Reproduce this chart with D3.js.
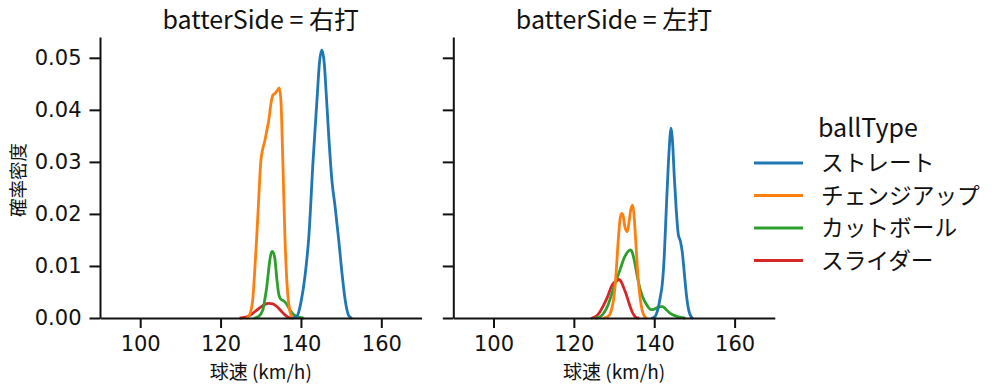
<!DOCTYPE html>
<html><head><meta charset="utf-8">
<script src="https://cdn.jsdelivr.net/npm/d3@7"></script>
<style>
body{margin:0;background:#fff;}
svg text{font-family:"Noto Sans CJK JP","Noto Sans",sans-serif;fill:#111;}
</style></head>
<body><svg id="c" width="999" height="391"></svg>
<script>
// ---- data ----
const panels = ["右打", "左打"];
const ballTypes = ["ストレート", "チェンジアップ", "カットボール", "スライダー"];
const colors = ["#1f77b4", "#ff7f0e", "#2ca02c", "#d62728"];
const xTicks = [100, 120, 140, 160];
const yTicks = [0.00, 0.01, 0.02, 0.03, 0.04, 0.05];

// 右打
const R_straight_x = [138, 139, 140, 141, 142, 143, 144, 144.6, 145.2, 145.8, 146.3, 147, 147.7, 148.5, 149.4, 150.2, 151, 151.8, 152.5];
const R_straight_y = [0, 0.0003, 0.003, 0.008, 0.016, 0.030, 0.042, 0.049, 0.0515, 0.049, 0.043, 0.034, 0.0265, 0.0214, 0.015, 0.0087, 0.0035, 0.0006, 0];
const R_change_x = [126.5, 127, 127.5, 128, 128.5, 129, 129.5, 130, 130.5, 131, 131.5, 132, 132.5, 133, 133.6, 134.2, 134.6, 135, 135.5, 136, 136.5, 137, 137.5, 138];
const R_change_y = [0, 0.0004, 0.0012, 0.0035, 0.009, 0.0156, 0.023, 0.030, 0.0325, 0.034, 0.036, 0.038, 0.041, 0.0428, 0.0432, 0.0438, 0.0442, 0.042, 0.030, 0.016, 0.007, 0.0025, 0.0006, 0];
const R_cut_x = [128.5, 129.5, 130.5, 131, 131.5, 132, 132.5, 132.9, 133.5, 134, 134.5, 135, 135.5, 136, 136.5, 137, 137.5, 138, 139, 140.5];
const R_cut_y = [0, 0.0003, 0.0015, 0.0035, 0.006, 0.0095, 0.0122, 0.0128, 0.0115, 0.0075, 0.0045, 0.0036, 0.0034, 0.0031, 0.0026, 0.0019, 0.0013, 0.0008, 0.0003, 0];
const R_slider_x = [125, 126, 127, 128, 129, 130, 131, 132, 133, 134, 135, 136, 137, 137.5];
const R_slider_y = [0, 0.0001, 0.0004, 0.0009, 0.0015, 0.0021, 0.0026, 0.0028, 0.0027, 0.0022, 0.0014, 0.0006, 0.0001, 0];

// 左打
const L_straight_x = [139.5, 140.2, 141, 141.5, 142, 142.5, 143, 143.5, 144, 144.2, 144.5, 145, 145.5, 146, 146.5, 147, 147.5, 148, 148.5, 149, 149.5];
const L_straight_y = [0, 0.0003, 0.002, 0.004, 0.0065, 0.012, 0.021, 0.0294, 0.0355, 0.0365, 0.0345, 0.027, 0.0205, 0.016, 0.0148, 0.0125, 0.0085, 0.0045, 0.0018, 0.0005, 0];
const L_change_x = [127.5, 128.5, 129, 129.5, 130, 130.5, 131, 131.5, 131.9, 132.3, 132.7, 133.3, 133.8, 134.2, 134.65, 135, 135.5, 136, 136.5, 137, 137.5, 138];
const L_change_y = [0, 0.0003, 0.0008, 0.002, 0.0042, 0.0085, 0.0145, 0.019, 0.0201, 0.0195, 0.0175, 0.0166, 0.0188, 0.021, 0.0217, 0.0195, 0.0135, 0.0075, 0.0038, 0.0015, 0.0004, 0];
const L_cut_x = [125.5, 126.5, 127.5, 128.5, 129.5, 130.5, 131.5, 132.5, 133.5, 134.1, 134.5, 135, 135.5, 136, 136.5, 137, 137.5, 138, 138.5, 139, 139.5, 140, 140.5, 141, 141.5, 142, 142.5, 143, 143.5, 144, 145, 146, 147, 147.5];
const L_cut_y = [0, 0.0002, 0.001, 0.0025, 0.0048, 0.0072, 0.0093, 0.0115, 0.0128, 0.0131, 0.0127, 0.0112, 0.0092, 0.0072, 0.0055, 0.0043, 0.0034, 0.0027, 0.0021, 0.0017, 0.0016, 0.0017, 0.0019, 0.0021, 0.0022, 0.0022, 0.002, 0.0016, 0.0012, 0.0009, 0.0005, 0.0002, 0.00005, 0];
const L_slider_x = [124.5, 125.5, 126.5, 127.5, 128.5, 129.3, 130, 130.5, 131.1, 131.6, 132, 132.5, 133, 133.5, 134, 134.5, 135, 135.5, 136];
const L_slider_y = [0, 0.0003, 0.0012, 0.0026, 0.0043, 0.006, 0.0068, 0.0070, 0.0074, 0.0072, 0.0066, 0.0056, 0.0046, 0.0034, 0.0022, 0.0012, 0.0005, 0.0001, 0];

const seriesByPanel = [
  [[R_straight_x, R_straight_y], [R_change_x, R_change_y], [R_cut_x, R_cut_y], [R_slider_x, R_slider_y]],
  [[L_straight_x, L_straight_y], [L_change_x, L_change_y], [L_cut_x, L_cut_y], [L_slider_x, L_slider_y]]
];

// ---- layout ----
const svg = d3.select("#c");
const plotTop = 37, plotBottom = 318;
const panelLeft = [100, 453.3];
const panelW = 321.5;
const tickFont = '"DejaVu Sans",sans-serif';
const y = d3.scaleLinear().domain([0, 0.054]).range([plotBottom, plotTop]);

panels.forEach((p, i) => {
  const x0 = panelLeft[i];
  const x = d3.scaleLinear().domain([90, 170]).range([x0, x0 + panelW]);
  const g = svg.append("g");

  // curves (first hue on top)
  const line = d3.line().x(d => x(d[0])).y(d => y(d[1])).curve(d3.curveMonotoneX);
  for (let k = ballTypes.length - 1; k >= 0; k--) {
    const [xs, ys] = seriesByPanel[i][k];
    const pts = xs.map((v, j) => [v, ys[j]]);
    g.append("path").attr("d", line(pts)).attr("fill", "none")
      .attr("stroke", colors[k]).attr("stroke-width", 2.8)
      .attr("stroke-linejoin", "round").attr("stroke-linecap", "round");
  }

  // x axis
  const xa = g.append("g").attr("transform", `translate(0,${plotBottom})`)
    .call(d3.axisBottom(x).tickValues(xTicks).tickSize(10).tickPadding(8).tickSizeOuter(0));
  xa.select(".domain").attr("stroke", "#111").attr("stroke-width", 2);
  xa.selectAll(".tick line").attr("stroke", "#111").attr("stroke-width", 2);
  xa.selectAll(".tick text").attr("font-size", 21).style("font-family", tickFont);

  // y axis
  const ya = g.append("g").attr("transform", `translate(${x0},0)`)
    .call(d3.axisLeft(y).tickValues(yTicks).tickSize(10.5).tickPadding(8).tickSizeOuter(0)
      .tickFormat(i === 0 ? d3.format(".2f") : () => ""));
  ya.select(".domain").attr("stroke", "#111").attr("stroke-width", 2);
  ya.selectAll(".tick line").attr("stroke", "#111").attr("stroke-width", 2);
  ya.selectAll(".tick text").attr("font-size", 21).style("font-family", tickFont);

  // title
  g.append("text").attr("x", x0 + panelW / 2).attr("y", 29).attr("text-anchor", "middle")
    .attr("font-size", 25).text("batterSide = " + p);
  // x label
  g.append("text").attr("x", x0 + panelW / 2).attr("y", 379).attr("text-anchor", "middle")
    .attr("font-size", 19).text("球速 (km/h)");
});

// y label
svg.append("text").attr("transform", "translate(24.5,180) rotate(-90)").attr("text-anchor", "middle")
  .attr("font-size", 18.5).text("確率密度");

// legend
const lg = svg.append("g");
lg.append("text").attr("x", 818).attr("y", 137).attr("font-size", 25).text("ballType");
ballTypes.forEach((b, k) => {
  const yy = 163 + k * 32.5;
  lg.append("line").attr("x1", 754).attr("x2", 803).attr("y1", yy).attr("y2", yy)
    .attr("stroke", colors[k]).attr("stroke-width", 2.8);
  lg.append("text").attr("x", 821).attr("y", yy + 8).attr("font-size", 22.7).text(b);
});
</script></body></html>
